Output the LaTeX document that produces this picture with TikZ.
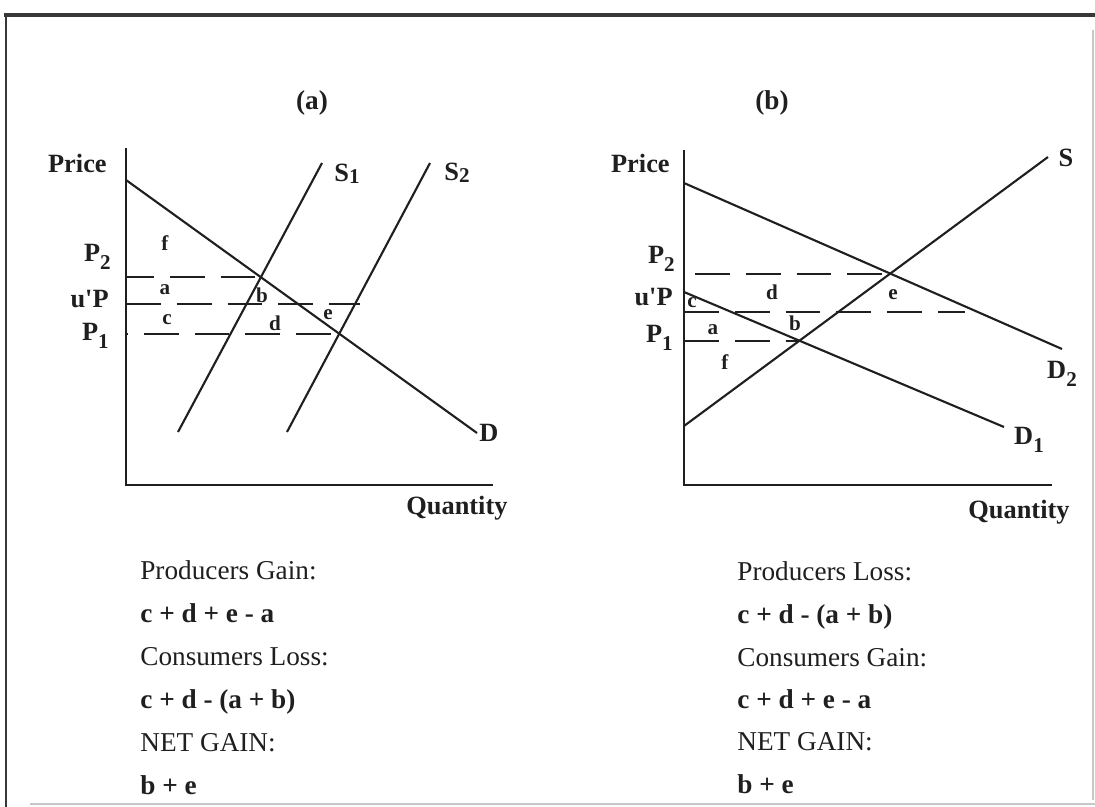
\documentclass[tikz,border=0pt]{standalone}
\usepackage{fontspec}
\setmainfont{Liberation Serif}
\colorlet{ink}{black!88}
\colorlet{rulegray}{black!78}
\colorlet{faint}{black!22}
\newcommand{\lowsub}[1]{\raisebox{-4.5pt}{\fontsize{12}{12}\selectfont #1}}
\newcommand{\flatsub}[1]{\raisebox{-1pt}{\fontsize{12}{12}\selectfont #1}}
\tikzset{
  fig/frame/.style={rulegray, line width=2.8pt},
  fig/side/.style={rulegray, line width=1.7pt},
  fig/edge/.style={faint, line width=0.9pt},
  fig/axis/.style={ink, line width=1.4pt},
  fig/curve/.style={ink, line width=1.2pt},
  fig/price/.style={ink, line width=1.2pt, dash pattern=on 19.8pt off 9.1pt},
  fig/label/.style={ink, inner sep=0pt, font=\fontsize{15.5}{18}\selectfont},
  fig/tag/.style={ink, inner sep=0pt, font=\bfseries\fontsize{15}{18}\selectfont},
  fig/sum/.style={ink, inner sep=0pt, font=\bfseries\fontsize{15.5}{18}\selectfont},
  fig/head/.style={ink, inner sep=0pt, font=\bfseries\fontsize{15.5}{18}\selectfont},
  fig/area/.style={ink, inner sep=0pt, font=\bfseries\fontsize{12}{13}\selectfont},
}

\begin{document}
\begin{tikzpicture}[x=0.02cm, y=-0.02cm]
\useasboundingbox (0,0) rectangle (1095,807);
\fill[white] (0,0) rectangle (1095,807);
\coordinate (frameTL) at (4,15);
\coordinate (frameTR) at (1095,15);
\coordinate (frameBL) at (6,807);
\coordinate (frameBR) at (1095,804);
\draw[fig/frame] (frameTL) -- (frameTR);
\draw[fig/side] (6,14) -- (frameBL);
\draw[fig/edge] (30,804) -- (frameBR);
\draw[fig/edge] (1093,30) -- (1093,800);

% (a) supply shifts
\node[fig/head] (aHead) at (312,103) {(a)};
\coordinate (aTop) at (126,148);
\coordinate (aO) at (126,485);
\coordinate (aEnd) at (493,485);
\draw[fig/axis] (aTop) -- (aO) -- (aEnd);
\coordinate (aD0) at (126,180);
\coordinate (aD1) at (477,433);
\coordinate (aS10) at (178,432);
\coordinate (aS11) at (322,163);
\coordinate (aS20) at (287,432);
\coordinate (aS21) at (430,163);
\draw[fig/curve] (aD0) -- (aD1);
\draw[fig/curve] (aS10) -- (aS11);
\draw[fig/curve] (aS20) -- (aS21);
\coordinate (aHi) at (intersection of aD0--aD1 and aS10--aS11);
\coordinate (aLo) at (intersection of aD0--aD1 and aS20--aS21);
\coordinate (aMid) at (360,304);
\draw[fig/price, dash phase=4pt] (aHi -| aO) -- (aHi);
\draw[fig/price] (aMid -| aO) -- (aMid);
\draw[fig/price, dash phase=18.7pt] (aLo -| aO) -- (aLo);
\node[fig/tag, anchor=east] (aPrice) at (107,163) {Price};
\node[fig/tag, anchor=base east] (aP2) at (111,262) {P\lowsub{2}};
\node[fig/tag, anchor=base east] (aPu) at (109,308) {u\textquotesingle P};
\node[fig/tag, anchor=base east] (aP1) at (109,341) {P\lowsub{1}};
\node[fig/tag] (aS1lab) at (347,174) {S\flatsub{1}};
\node[fig/tag] (aS2lab) at (457,173) {S\flatsub{2}};
\node[fig/tag] (aDlab) at (489,433) {D};
\node[fig/tag] (aQty) at (457,508) {Quantity};
\node[fig/area] (aF) at (165,243) {f};
\node[fig/area] (aA) at (165,290) {a};
\node[fig/area] (aB) at (262,295) {b};
\node[fig/area] (aC) at (167,320) {c};
\node[fig/area] (aDd) at (275,323) {d};
\node[fig/area] (aE) at (328,315) {e};
\node[fig/label, anchor=base west] (aGain) at (140,579) {Producers Gain:};
\node[fig/sum, anchor=base west] (aGainSum) at (140,622) {c + d + e - a};
\node[fig/label, anchor=base west] (aLoss) at (140,665) {Consumers Loss:};
\node[fig/sum, anchor=base west] (aLossSum) at (140,708) {c + d - (a + b)};
\node[fig/label, anchor=base west] (aNet) at (140,751) {NET GAIN:};
\node[fig/sum, anchor=base west] (aNetSum) at (140,794) {b + e};

% (b) demand shifts
\node[fig/head] (bHead) at (772,103) {(b)};
\coordinate (bTop) at (684,150);
\coordinate (bO) at (684,485);
\coordinate (bEnd) at (1052,485);
\draw[fig/axis] (bTop) -- (bO) -- (bEnd);
\coordinate (bD20) at (684,183);
\coordinate (bD21) at (1062,349);
\coordinate (bD10) at (684,292);
\coordinate (bD11) at (1004,427);
\coordinate (bS0) at (684,426);
\coordinate (bS1) at (1048,157);
\draw[fig/curve] (bD20) -- (bD21);
\draw[fig/curve] (bD10) -- (bD11);
\draw[fig/curve] (bS0) -- (bS1);
\coordinate (bHi) at (intersection of bD20--bD21 and bS0--bS1);
\coordinate (bLo) at (intersection of bD10--bD11 and bS0--bS1);
\coordinate (bMid) at (965,312);
\draw[fig/price] (bHi -| 695,0) -- (bHi);
\draw[fig/price] (bMid -| bO) -- (bMid);
\draw[fig/price] (bLo -| bO) -- (bLo);
\node[fig/tag, anchor=east] (bPrice) at (670,163) {Price};
\node[fig/tag, anchor=base east] (bP2) at (675,264) {P\lowsub{2}};
\node[fig/tag, anchor=base east] (bPu) at (673,306) {u\textquotesingle P};
\node[fig/tag, anchor=base east] (bP1) at (673,343) {P\lowsub{1}};
\node[fig/tag] (bSlab) at (1066,158) {S};
\node[fig/tag] (bD2lab) at (1062,374) {D\lowsub{2}};
\node[fig/tag] (bD1lab) at (1029,440) {D\lowsub{1}};
\node[fig/tag] (bQty) at (1019,512) {Quantity};
\node[fig/area] (bC) at (692,303) {c};
\node[fig/area] (bDd) at (772,292) {d};
\node[fig/area] (bE) at (893,295) {e};
\node[fig/area] (bB) at (795,323) {b};
\node[fig/area] (bA) at (713,330) {a};
\node[fig/area] (bF) at (725,362) {f};
\node[fig/label, anchor=base west] (bLoss) at (737,580) {Producers Loss:};
\node[fig/sum, anchor=base west] (bLossSum) at (737,623) {c + d - (a + b)};
\node[fig/label, anchor=base west] (bGain) at (737,666) {Consumers Gain:};
\node[fig/sum, anchor=base west] (bGainSum) at (737,708) {c + d + e - a};
\node[fig/label, anchor=base west] (bNet) at (737,750) {NET GAIN:};
\node[fig/sum, anchor=base west] (bNetSum) at (737,793) {b + e};

\end{tikzpicture}
\end{document}
